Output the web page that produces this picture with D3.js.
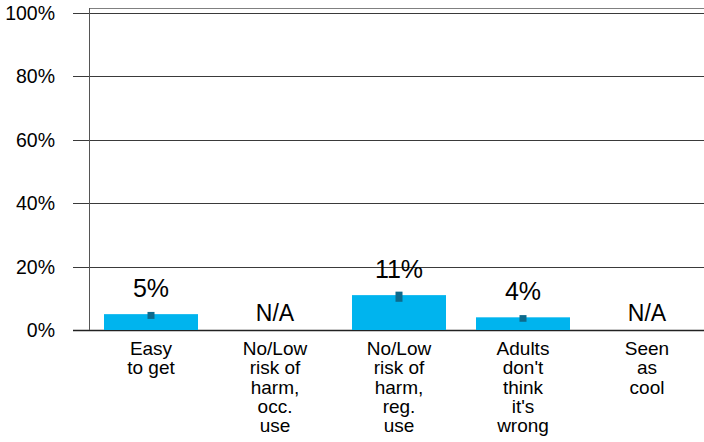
<!DOCTYPE html>
<html>
<head>
<meta charset="utf-8">
<script src="https://cdn.jsdelivr.net/npm/d3@7"></script>
<style>
  html, body { margin: 0; padding: 0; background: #fff; }
  svg { display: block; font-family: "Liberation Sans", Arial, sans-serif; }
</style>
</head>
<body>
<svg id="chart" width="704" height="442"></svg>
<script>
const categories = ["Easy to get", "No/Low risk of harm, occ. use", "No/Low risk of harm, reg. use", "Adults don't think it's wrong", "Seen as cool"];
const categoryLines = [
  ["Easy", "to get"],
  ["No/Low", "risk of", "harm,", "occ.", "use"],
  ["No/Low", "risk of", "harm,", "reg.", "use"],
  ["Adults", "don't", "think", "it's", "wrong"],
  ["Seen", "as", "cool"]
];
const values = [5, null, 11, 4, null];
const markerLow = [3.5, null, 8.9, 2.6, null];
const markerHigh = [5.7, null, 12.1, 4.7, null];
const valueLabels = ["5%", "N/A", "11%", "4%", "N/A"];
const yTicks = [0, 20, 40, 60, 80, 100];
const yTickLabels = ["0%", "20%", "40%", "60%", "80%", "100%"];

(function () {
const svg = d3.select("#chart");
const pLeft = 89, pRight = 709, pTop = 13, pBottom = 330;

const x = d3.scaleBand().domain(categories).range([pLeft, pRight])
  .paddingInner(30 / 124).paddingOuter(15 / 124);
const y = d3.scaleLinear().domain([0, 100]).range([pBottom, pTop]);

// plot frame top
svg.append("line").attr("x1", pLeft).attr("x2", 704).attr("y1", 8.5).attr("y2", 8.5)
  .attr("stroke", "#808080").attr("stroke-width", 1);

// gridlines
svg.append("g").selectAll("line").data(yTicks).join("line")
  .attr("x1", 73).attr("x2", 704)
  .attr("y1", d => Math.round(y(d)) + 0.5).attr("y2", d => Math.round(y(d)) + 0.5)
  .attr("stroke", d => d === 0 ? "#222" : "#3a3a3a").attr("stroke-width", d => d === 0 ? 1.5 : 1);

// y tick labels
svg.append("g").selectAll("text").data(yTicks).join("text")
  .attr("x", 55).attr("y", d => y(d)).attr("dy", "0.36em")
  .attr("text-anchor", "end").attr("font-size", 19.5).attr("fill", "#000")
  .text((d, i) => yTickLabels[i]);

const bars = categories.map((c, i) => ({ c, v: values[i], lo: markerLow[i], hi: markerHigh[i], lab: valueLabels[i], lines: categoryLines[i] }));

// bars
svg.append("g").selectAll("rect").data(bars.filter(d => d.v != null)).join("rect")
  .attr("x", d => x(d.c)).attr("width", x.bandwidth())
  .attr("y", d => y(d.v)).attr("height", d => y(0) - y(d.v))
  .attr("fill", "#00b4ee");

// markers
svg.append("g").selectAll("rect").data(bars.filter(d => d.lo != null)).join("rect")
  .attr("x", d => x(d.c) + x.bandwidth() / 2 - 3.5).attr("width", 7)
  .attr("y", d => y(d.hi)).attr("height", d => y(d.lo) - y(d.hi))
  .attr("fill", "#0d6a8c");

// vertical axis
svg.append("line").attr("x1", pLeft + 0.5).attr("x2", pLeft + 0.5).attr("y1", 8).attr("y2", pBottom)
  .attr("stroke", "#555").attr("stroke-width", 1);

// value labels
svg.append("g").selectAll("text").data(bars).join("text")
  .attr("x", d => x(d.c) + x.bandwidth() / 2)
  .attr("y", d => d.v != null ? y(d.v) - 17 : y(0) - 9)
  .attr("text-anchor", "middle")
  .attr("font-size", d => d.v != null ? 25 : 23)
  .attr("fill", "#000")
  .text(d => d.lab);

// category labels
const cat = svg.append("g").selectAll("text").data(bars).join("text")
  .attr("x", d => x(d.c) + x.bandwidth() / 2)
  .attr("y", 355)
  .attr("text-anchor", "middle").attr("font-size", 19).attr("fill", "#000");
cat.selectAll("tspan").data(d => d.lines.map(t => ({ t, cx: x(d.c) + x.bandwidth() / 2 }))).join("tspan")
  .attr("x", d => d.cx).attr("dy", (d, i) => i === 0 ? 0 : 19.3)
  .text(d => d.t);
})();
</script>
</body>
</html>
